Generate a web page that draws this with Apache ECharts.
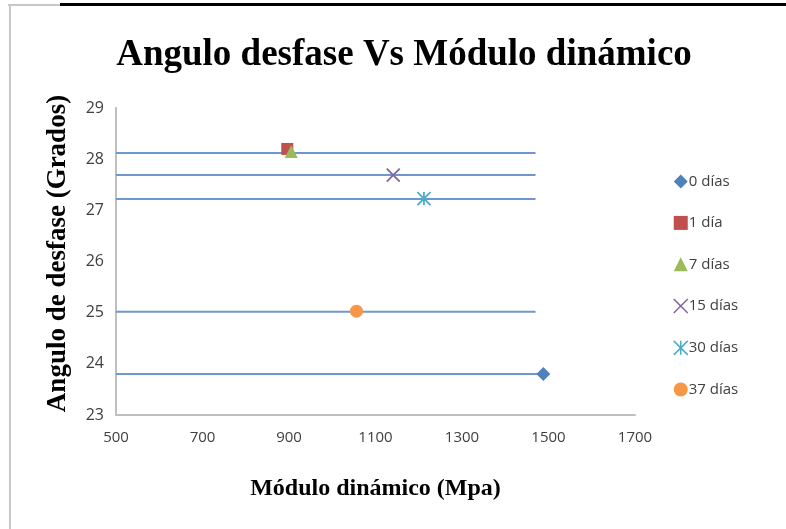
<!DOCTYPE html>
<html>
<head>
<meta charset="utf-8">
<script src="https://cdn.jsdelivr.net/npm/echarts@6/dist/echarts.min.js"></script>
<style>html,body{margin:0;padding:0;background:#fff}#c{width:786px;height:529px}</style>
</head>
<body>
<div id="c"></div>
<script>
const seriesNames = ['0 días', '1 día', '7 días', '15 días', '30 días', '37 días'];
const moduloX = [1488, 896, 905, 1141, 1212, 1056];
const anguloY = [23.80, 28.20, 28.15, 27.69, 27.23, 25.03];
const lineY = [23.80, 28.12, 27.69, 27.22, 25.02];
const lineStartX = [500, 500, 500, 500, 500];
const lineEndX = [1488, 1470, 1470, 1470, 1470];
const xTicks = [500, 700, 900, 1100, 1300, 1500, 1700];
const yTicks = [23, 24, 25, 26, 27, 28, 29];

const colors = ['#4F81BD', '#C0504D', '#9BBB59', '#8064A2', '#4BACC6', '#F79646'];
const symbols = [
  'diamond', 'rect', 'triangle',
  'path://M0,0L10,10M10,0L0,10',
  'path://M5,0L5,10M0,0L10,10M10,0L0,10',
  'circle'
];
const sizes = [14, 12, 13, 13, 13, 13];

const series = [];
lineY.forEach((y, i) => {
  series.push({
    type: 'line', silent: true, symbol: 'none', z: 1,
    data: [[lineStartX[i], y], [lineEndX[i], y]],
    lineStyle: { color: '#6E97CF', width: 2 },
    tooltip: { show: false }
  });
});
seriesNames.forEach((n, i) => {
  const stroke = (i === 3 || i === 4);
  series.push({
    name: n, type: 'scatter', z: 3,
    symbol: symbols[i], symbolSize: sizes[i],
    data: [[moduloX[i], anguloY[i]]],
    itemStyle: stroke
      ? { color: 'rgba(0,0,0,0)', borderColor: colors[i], borderWidth: 1.8, opacity: 1 }
      : { color: colors[i], opacity: 1 }
  });
});

const chart = echarts.init(document.getElementById('c'));
chart.setOption({
  animation: false,
  color: colors,
  title: {
    text: 'Angulo desfase Vs Módulo dinámico',
    left: 399, top: 32, textAlign: 'center',
    textStyle: { fontFamily: 'Liberation Serif', fontWeight: 'bold', fontSize: 37, color: '#000' }
  },
  legend: {
    orient: 'vertical', left: 668, top: 169, itemGap: 26.4,
    itemWidth: 14, itemHeight: 14,
    textStyle: { fontFamily: 'Open Sans', fontSize: 15, color: '#404040', padding: [0, 0, 0, -4] },
    data: seriesNames.map((n, i) => ({
      name: n, icon: symbols[i],
      itemStyle: (i === 3 || i === 4)
        ? { color: 'rgba(0,0,0,0)', borderColor: colors[i], borderWidth: 1.5 }
        : { color: colors[i] }
    }))
  },
  grid: { left: 116, right: 151, top: 108, bottom: 114 },
  xAxis: {
    type: 'value', min: xTicks[0], max: xTicks[xTicks.length - 1], interval: 200,
    name: 'Módulo dinámico (Mpa)', nameLocation: 'middle', nameGap: 62,
    nameTextStyle: { fontFamily: 'Liberation Serif', fontWeight: 'bold', fontSize: 24, color: '#000' },
    axisLine: { show: true, lineStyle: { color: '#BFBFBF', width: 2 } },
    axisTick: { show: false },
    splitLine: { show: false },
    axisLabel: { fontFamily: 'Open Sans', fontSize: 15, color: '#404040', margin: 15, formatter: v => String(v) }
  },
  yAxis: {
    type: 'value', min: yTicks[0], max: yTicks[yTicks.length - 1], interval: 1,
    name: 'Angulo de desfase (Grados)', nameLocation: 'middle', nameGap: 44, nameRotate: 90,
    nameTextStyle: { fontFamily: 'Liberation Serif', fontWeight: 'bold', fontSize: 27, color: '#000', padding: [0, 0, 0, 16] },
    axisLine: { show: true, lineStyle: { color: '#BFBFBF', width: 2 } },
    axisTick: { show: false },
    splitLine: { show: false },
    axisLabel: { fontFamily: 'Open Sans', fontSize: 16, color: '#404040', margin: 12, formatter: v => String(v) }
  },
  graphic: [
    { type: 'line', shape: { x1: 10, y1: 5, x2: 10, y2: 529 }, style: { stroke: '#C8C8C8', lineWidth: 2 } },
    { type: 'line', shape: { x1: 8, y1: 5, x2: 60, y2: 5 }, style: { stroke: '#C8C8C8', lineWidth: 2 } },
    { type: 'line', shape: { x1: 60, y1: 4.5, x2: 786, y2: 4.5 }, style: { stroke: '#000', lineWidth: 3 } }
  ],
  series: series
});
</script>
</body>
</html>
